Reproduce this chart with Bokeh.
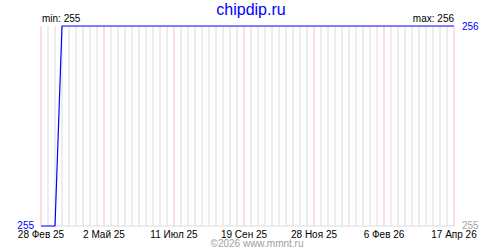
import pandas as pd
from bokeh.plotting import figure
from bokeh.models import Range1d
from bokeh.core.properties import value
from bokeh.embed import file_html
from bokeh.resources import INLINE

# ---- data ----
dates = ["2025-02-28", "2025-03-14", "2025-03-21", "2026-04-17"]
values = [255, 255, 256, 256]
tick_dates = ["2025-02-28", "2025-05-02", "2025-07-11", "2025-09-19",
              "2025-11-28", "2026-02-06", "2026-04-17"]
tick_labels = ["28 Фев 25", "2 Май 25", "11 Июл 25", "19 Сен 25",
               "28 Ноя 25", "6 Фев 26", "17 Апр 26"]
title_text = "chipdip.ru"
credit_text = "©2026 www.mmnt.ru"
x_start, x_end = "2025-02-28", "2026-04-17"

def ms(d):
    return pd.Timestamp(d).value / 1e6

xs = [ms(d) for d in dates]
ymin, ymax = min(values), max(values)
x0, x1 = ms(x_start), ms(x_end)
tick_ms = [ms(d) for d in tick_dates]
week = 7 * 24 * 3600 * 1000
weekly = []
t = x0
while t <= x1 + 1:
    if all(abs(t - tm) > 1000 for tm in tick_ms):
        weekly.append(t)
    t += week

# ---- layout: plot region 40..453 px horizontally, 25..225 px vertically ----
W, H = 500, 250
L, R, T, B = 40, 453, 25, 225
kx = (x1 - x0) / (R - L)
ky = (ymax - ymin) / (B - T)

def X(px):
    return x0 + (px - L) * kx

def Y(py):
    return ymax - (py - T) * ky

FONT = value("Liberation Sans")
BLUE = "#0000ff"

# half-pixel shift so 1px lines land on pixel centres
p = figure(width=W, height=H, x_axis_type="datetime", output_backend="svg",
           toolbar_location=None, min_border=0,
           x_range=Range1d(X(-0.5), X(W - 0.5)), y_range=Range1d(Y(H - 0.5), Y(-0.5)))
p.outline_line_color = None
p.axis.visible = False
p.grid.visible = False
p.background_fill_color = "white"
p.border_fill_color = "white"

# grid lines
p.segment(x0=weekly, y0=[ymin] * len(weekly), x1=weekly, y1=[ymax] * len(weekly),
          line_color="#dcdcdc", line_width=1)
p.segment(x0=tick_ms, y0=[ymin] * len(tick_ms), x1=tick_ms, y1=[ymax] * len(tick_ms),
          line_color="#ffbcbc", line_width=1)
p.segment(x0=[x0], y0=[ymin], x1=[x1], y1=[ymin], line_color="#dcdcdc", line_width=1)

# data line
p.line(xs, values, line_color=BLUE, line_width=1.2)

def txt(x, y, text, color, align, baseline, size="10px"):
    p.text(x=x, y=y, text=text, text_color=color, text_align=align,
           text_baseline=baseline, text_font=FONT, text_font_size=size)

# tick labels
txt(tick_ms, [Y(233)] * len(tick_ms), tick_labels, "black", "center", "middle")
# value labels
txt([X(33)], [Y(228)], [str(ymin)], BLUE, "right", "bottom")
txt([X(461)], [Y(24.5)], [str(ymax)], BLUE, "left", "middle")
txt([X(461)], [Y(228)], [str(ymin)], "#a8a8a8", "left", "bottom")
txt([X(41)], [Y(23)], [f"min: {ymin}"], "black", "left", "bottom")
txt([X(453)], [Y(23)], [f"max: {ymax}"], "black", "right", "bottom")
# title and credit
txt([X(250)], [Y(8)], [title_text], BLUE, "center", "middle", size="16px")
txt([X(256)], [Y(242.5)], [credit_text], "#a0a0a0", "center", "middle")

open("out.html", "w").write(file_html(p, INLINE))
